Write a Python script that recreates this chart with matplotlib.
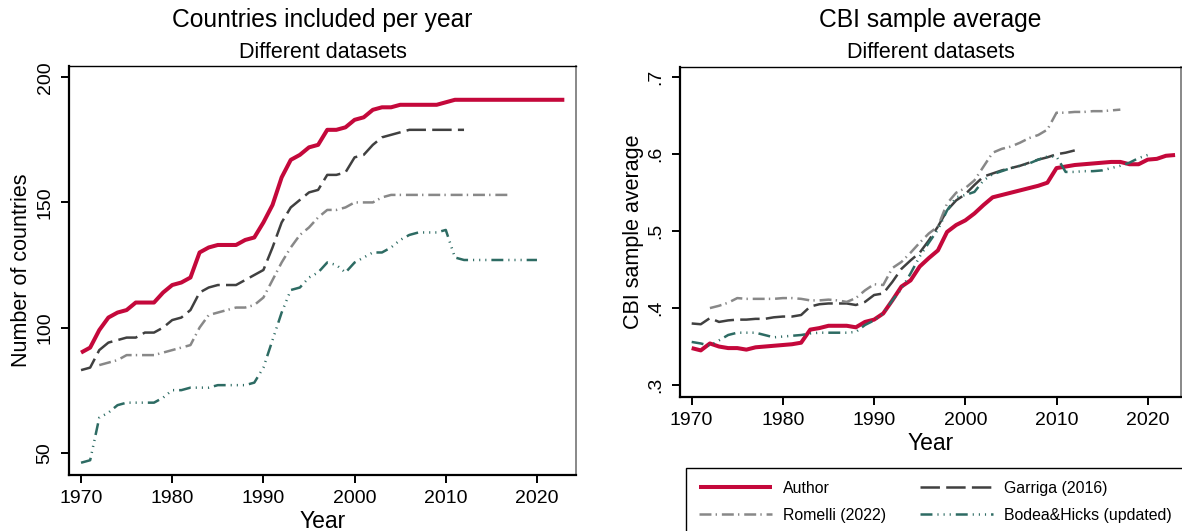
import matplotlib
matplotlib.use("Agg")
import matplotlib.pyplot as plt
from matplotlib.ticker import FixedLocator, FuncFormatter

plt.rcParams['font.family'] = ['Liberation Sans', 'DejaVu Sans']
plt.rcParams['lines.scale_dashes'] = False

# ---- data: countries per year ----
yrs_author = list(range(1970, 2024))
n_author = [90, 92, 99, 104, 106, 107, 110, 110, 110, 114,
            117, 118, 120, 130, 132, 133, 133, 133, 135, 136,
            142, 149, 160, 167, 169, 172, 173, 179, 179, 180,
            183, 184, 187, 188, 188, 189, 189, 189, 189, 189,
            190, 191, 191, 191, 191, 191, 191, 191, 191, 191,
            191, 191, 191, 191]

yrs_garriga = list(range(1970, 2013))
n_garriga = [83, 84, 91, 94, 95, 96, 96, 98, 98, 100,
             103, 104, 107, 114, 116, 117, 117, 117, 119, 121,
             123, 132, 142, 148, 151, 154, 155, 161, 161, 162,
             168, 169, 173, 176, 177, 178, 179, 179, 179, 179,
             179, 179, 179]

yrs_romelli = list(range(1972, 2018))
n_romelli = [85, 86, 87, 89, 89, 89, 89, 90,
             91, 92, 93, 100, 105, 106, 107, 108, 108, 109,
             112, 119, 126, 132, 137, 140, 144, 147, 147, 148,
             150, 150, 150, 152, 153, 153, 153, 153, 153, 153,
             153, 153, 153, 153, 153, 153, 153, 153]

yrs_bodea = list(range(1970, 2021))
n_bodea = [46, 47, 64, 66, 69, 70, 70, 70, 70, 72,
           75, 75, 76, 76, 76, 77, 77, 77, 77, 78,
           84, 95, 106, 115, 116, 120, 122, 126, 125, 122,
           126, 128, 130, 130, 132, 135, 137, 138, 138, 138,
           139, 128, 127, 127, 127, 127, 127, 127, 127, 127, 127]

# ---- data: CBI sample average ----
cbi_author = [.348, .345, .354, .350, .348, .348, .346, .349, .350, .351,
              .352, .353, .355, .372, .374, .377, .377, .377, .375, .382,
              .385, .393, .410, .428, .436, .454, .465, .475, .499, .508,
              .514, .523, .534, .544, .547, .550, .553, .556, .559, .563,
              .582, .584, .586, .587, .588, .589, .590, .590, .587, .587,
              .593, .594, .598, .599]

cbi_garriga = [.380, .379, .387, .382, .384, .385, .385, .386, .386, .388,
               .389, .389, .391, .402, .405, .406, .406, .406, .404, .408,
               .417, .419, .434, .451, .462, .472, .488, .506, .527, .540,
               .548, .560, .571, .575, .579, .582, .585, .589, .593, .596,
               .600, .602, .605]

cbi_romelli = [.400, .403, .407, .413, .412, .412, .412, .412,
               .413, .413, .412, .410, .410, .411, .410, .408, .413, .423,
               .431, .430, .452, .460, .472, .485, .497, .506, .536, .550,
               .556, .566, .584, .602, .607, .610, .615, .621, .625, .632,
               .654, .654, .655, .655, .656, .656, .657, .658]

cbi_bodea = [.356, .354, .351, .358, .365, .368, .368, .368, .365, .362,
             .363, .364, .365, .367, .368, .368, .368, .368, .369, .378,
             .384, .393, .410, .425, .445, .467, .485, .502, .527, .544,
             .547, .551, .566, .574, .578, .582, .585, .588, .593, .597,
             .597, .577, .577, .578, .578, .579, .582, .585, .589, .595, .599]

labels = ['Author', 'Garriga (2016)', 'Romelli (2022)', 'Bodea&Hicks (updated)']

# ---- styles ----
st_author = dict(color='#C4083B', lw=2.9, solid_capstyle='butt', zorder=2)
st_garriga = dict(color='#404040', lw=1.8, linestyle=(0, (14, 4.5)), zorder=3)
st_romelli = dict(color='#888888', lw=1.8, linestyle=(0, (8.6, 3, 1, 3.5)), zorder=3)
st_bodea = dict(color='#2D6B63', lw=1.8,
                linestyle=(0, (8.6, 3.6, 0.8, 3.6, 0.8, 3.6, 0.8, 3.6)), zorder=3)

W, H = 1182, 531
fig = plt.figure(figsize=(W / 100, H / 100), dpi=100)


def fx(px):
    return px / W


def fy(py):
    return 1 - py / H


ax1 = fig.add_axes([fx(69), fy(475), fx(576) - fx(69), fy(66) - fy(475)])
ax2 = fig.add_axes([fx(680), fy(396.7), fx(1181) - fx(680), fy(66.7) - fy(396.7)])

ax1.plot(yrs_author, n_author, **st_author)
ax1.plot(yrs_garriga, n_garriga, **st_garriga)
ax1.plot(yrs_romelli, n_romelli, **st_romelli)
ax1.plot(yrs_bodea, n_bodea, **st_bodea)

h_a, = ax2.plot(yrs_author, cbi_author, **st_author)
h_g, = ax2.plot(yrs_garriga, cbi_garriga, **st_garriga)
h_r, = ax2.plot(yrs_romelli, cbi_romelli, **st_romelli)
h_b, = ax2.plot(yrs_bodea, cbi_bodea, **st_bodea)

ax1.set_xlim(1968.68, 2024.28)
ax1.set_ylim(41.1, 204.5)
ax2.set_xlim(1968.72, 2023.65)
ax2.set_ylim(0.2848, 0.7138)

xt = [1970, 1980, 1990, 2000, 2010, 2020]
ax1.xaxis.set_major_locator(FixedLocator(xt))
ax2.xaxis.set_major_locator(FixedLocator(xt))
ax1.yaxis.set_major_locator(FixedLocator([50, 100, 150, 200]))
ax2.yaxis.set_major_locator(FixedLocator([.3, .4, .5, .6, .7]))
ax2.yaxis.set_major_formatter(FuncFormatter(lambda v, p: ('%.1f' % v).lstrip('0')))

for ax in (ax1, ax2):
    ax.tick_params(axis='both', direction='out', length=6, width=1.4,
                   labelsize=14, pad=5, color='black')
    for lab in ax.get_yticklabels():
        lab.set_rotation(90)
        lab.set_va('center')
    ax.spines['left'].set_linewidth(1.6)
    ax.spines['bottom'].set_linewidth(1.6)
    ax.spines['top'].set_linewidth(1.0)
    ax.spines['right'].set_linewidth(1.4)
    ax.spines['right'].set_color('#888888')
    ax.set_xlabel('Year', fontsize=16.5, labelpad=2)

ax1.set_ylabel('Number of countries', fontsize=15.5, labelpad=3.5)
ax2.set_ylabel('CBI sample average', fontsize=15.5, labelpad=3)

# titles
for cx, title in ((322.5, 'Countries included per year'), (930.5, 'CBI sample average')):
    fig.text(fx(cx), fy(26.7), title, fontsize=17.7, ha='center', va='baseline')
    fig.text(fx(cx), fy(58.3), 'Different datasets', fontsize=15.5, ha='center', va='baseline')

leg = fig.legend([h_a, h_r, h_g, h_b], [labels[0], labels[2], labels[1], labels[3]],
                 loc='upper left', bbox_to_anchor=(fx(686), fy(468)), ncol=2,
                 fontsize=11.4, handlelength=4.6, handletextpad=0.75,
                 columnspacing=2.1, labelspacing=0.77, borderpad=0.8,
                 borderaxespad=0, fancybox=False, framealpha=1, edgecolor='black')
leg.get_frame().set_linewidth(1.0)

fig.savefig('out.png', dpi=100)
